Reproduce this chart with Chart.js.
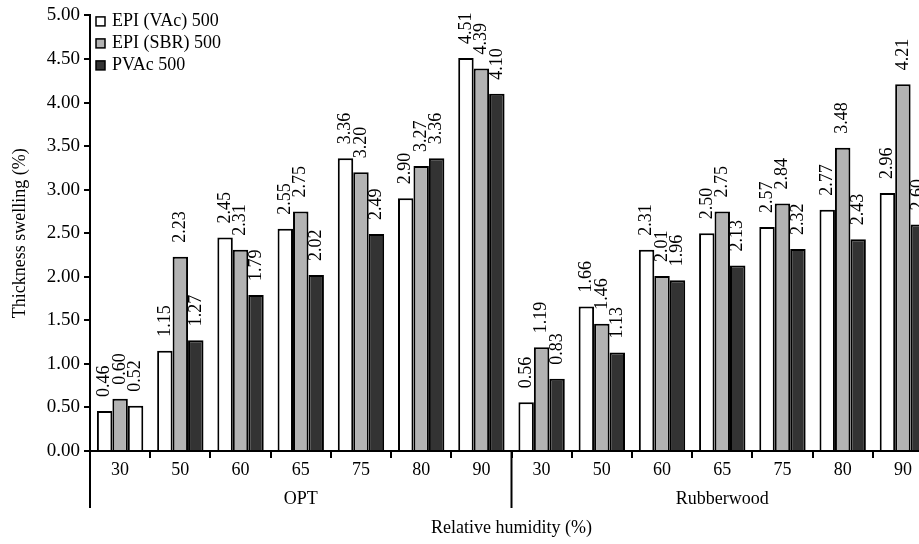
<!DOCTYPE html>
<html>
<head>
<meta charset="utf-8">
<script src="https://cdn.jsdelivr.net/npm/chart.js@4/dist/chart.umd.min.js"></script>
<style>
  html, body { margin: 0; padding: 0; background: #fff; overflow: hidden; }
  #wrap { position: relative; width: 960px; height: 544px; }
</style>
</head>
<body>
<div id="wrap"><canvas id="grafica"></canvas></div>
<script>
// datos
const humedades = ['30', '50', '60', '65', '75', '80', '90', '30', '50', '60', '65', '75', '80', '90'];
const grupos = ['OPT', 'Rubberwood'];
const tamGrupo = 7;

const epiVac = [0.46, 1.15, 2.45, 2.55, 3.36, 2.90, 4.51, 0.56, 1.66, 2.31, 2.50, 2.57, 2.77, 2.96];
const epiSbr = [0.60, 2.23, 2.31, 2.75, 3.20, 3.27, 4.39, 1.19, 1.46, 2.01, 2.75, 2.84, 3.48, 4.21];
const pvac   = [0.52, 1.27, 1.79, 2.02, 2.49, 3.36, 4.10, 0.83, 1.13, 1.96, 2.13, 2.32, 2.43, 2.60];

const fuente = "'Liberation Serif', 'Times New Roman', serif";

// etiquetas de valor giradas encima de cada barra
const etiquetasValor = {
  id: 'etiquetasValor',
  afterDatasetsDraw(chart) {
    const ctx = chart.ctx;
    ctx.save();
    ctx.font = '18px ' + fuente;
    ctx.fillStyle = '#000';
    ctx.textAlign = 'left';
    ctx.textBaseline = 'middle';
    chart.data.datasets.forEach((ds, i) => {
      chart.getDatasetMeta(i).data.forEach((barra, j) => {
        ctx.save();
        ctx.translate(barra.x, barra.y - 14);
        ctx.rotate(-Math.PI / 2);
        ctx.fillText(ds.data[j].toFixed(2), 0, 0);
        ctx.restore();
      });
    });
    ctx.restore();
  }
};

// leyenda dentro del area del grafico, arriba a la izquierda
const leyenda = {
  id: 'leyenda',
  afterDraw(chart) {
    const ctx = chart.ctx;
    const x0 = chart.chartArea.left + 6;
    ctx.save();
    ctx.font = '18px ' + fuente;
    ctx.textBaseline = 'middle';
    chart.data.datasets.forEach((ds, i) => {
      const y = chart.chartArea.top + 6 + i * 22;
      ctx.fillStyle = ds.colorLeyenda;
      ctx.fillRect(x0, y - 4.5, 9, 9);
      ctx.strokeStyle = '#000';
      ctx.lineWidth = 1.5;
      ctx.strokeRect(x0, y - 4.5, 9, 9);
      ctx.fillStyle = '#000';
      ctx.fillText(ds.label, x0 + 16, y);
    });
    ctx.restore();
  }
};

// separadores y nombres de grupo bajo el eje x
const ejeGrupos = {
  id: 'ejeGrupos',
  afterDraw(chart) {
    const ctx = chart.ctx;
    const xs = chart.scales.x;
    const base = chart.chartArea.bottom;
    const ancho = xs.getPixelForValue(1) - xs.getPixelForValue(0);
    ctx.save();
    ctx.strokeStyle = '#000';
    ctx.lineWidth = 2;
    ctx.font = '18px ' + fuente;
    ctx.fillStyle = '#000';
    ctx.textAlign = 'center';
    ctx.textBaseline = 'middle';
    grupos.forEach((g, k) => {
      const ini = xs.getPixelForValue(k * tamGrupo) - ancho / 2;
      const fin = xs.getPixelForValue(k * tamGrupo + tamGrupo - 1) + ancho / 2;
      ctx.beginPath();
      ctx.moveTo(ini, base);
      ctx.lineTo(ini, base + 57);
      ctx.stroke();
      ctx.fillText(g, (ini + fin) / 2, base + 48);
    });
    ctx.restore();
  }
};

const ctxGrafica = document.getElementById('grafica');

new Chart(ctxGrafica, {
  type: 'bar',
  data: {
    labels: humedades,
    datasets: [
      {
        label: 'EPI (VAc) 500',
        data: epiVac,
        backgroundColor: '#ffffff',
        colorLeyenda: '#ffffff',
        borderColor: '#000',
        borderWidth: 2
      },
      {
        label: 'EPI (SBR) 500',
        data: epiSbr,
        backgroundColor: '#b3b3b3',
        colorLeyenda: '#b3b3b3',
        borderColor: '#000',
        borderWidth: 2
      },
      {
        label: 'PVAc 500',
        data: pvac,
        // en el original la primera barra de PVAc aparece en blanco
        backgroundColor: pvac.map((v, i) => i === 0 ? '#ffffff' : '#333333'),
        colorLeyenda: '#333333',
        borderColor: '#000',
        borderWidth: 2
      }
    ]
  },
  options: {
    responsive: true,
    maintainAspectRatio: false,
    animation: false,
    categoryPercentage: 0.77,
    barPercentage: 1.0,
    layout: { padding: { top: 15, right: 27, left: 0, bottom: 0 } },
    plugins: {
      legend: { display: false },
      tooltip: { enabled: false }
    },
    scales: {
      x: {
        afterFit: (s) => { s.height = 93; },
        border: { display: true, color: '#000', width: 2 },
        grid: { drawOnChartArea: false, drawTicks: true, tickLength: 7, color: '#000', lineWidth: 2 },
        ticks: { color: '#000', font: { family: fuente, size: 18 }, padding: 1, maxRotation: 0, autoSkip: false },
        title: {
          display: true,
          text: 'Relative humidity (%)',
          color: '#000',
          font: { family: fuente, size: 18 },
          padding: { top: 0, bottom: 5 }
        }
      },
      y: {
        min: 0,
        max: 5,
        afterFit: (s) => { s.width = 90; },
        border: { display: true, color: '#000', width: 2 },
        grid: { drawOnChartArea: false, drawTicks: true, tickLength: 6, color: '#000', lineWidth: 2 },
        ticks: {
          stepSize: 0.5,
          color: '#000',
          font: { family: fuente, size: 19 },
          padding: 4,
          callback: (v) => Number(v).toFixed(2)
        },
        title: {
          display: true,
          text: 'Thickness swelling (%)',
          color: '#000',
          font: { family: fuente, size: 18 },
          padding: { top: 9, bottom: 0 }
        }
      }
    }
  },
  plugins: [etiquetasValor, leyenda, ejeGrupos]
});
</script>
</body>
</html>
